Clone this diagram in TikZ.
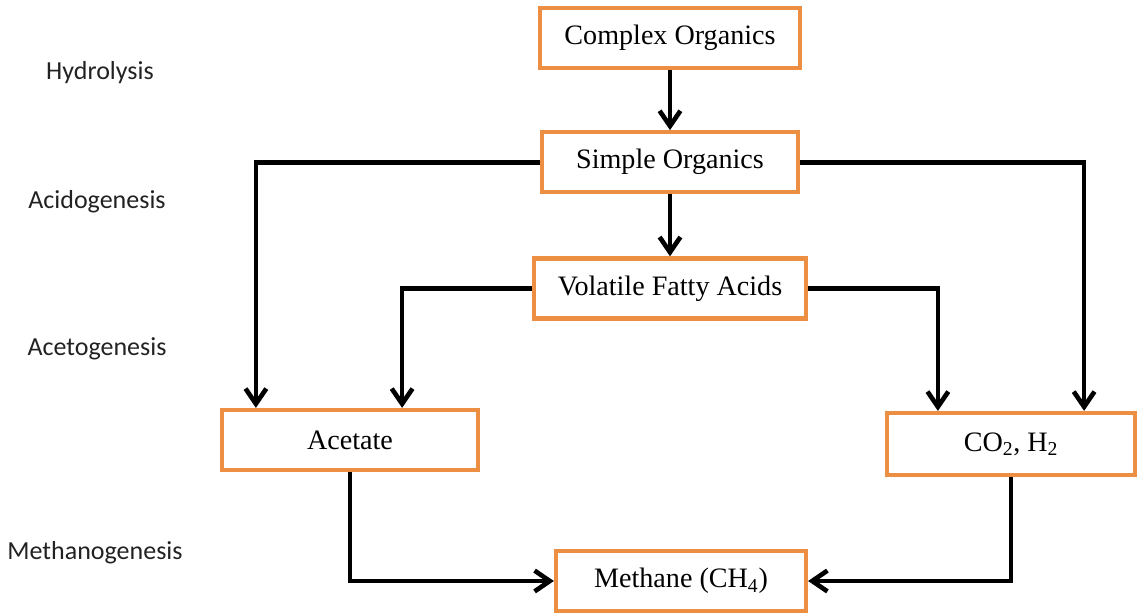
\documentclass[tikz,border=0pt]{standalone}
\usepackage{fontspec}
\setmainfont{Liberation Serif}
\newfontfamily\stagefont{Carlito}
\usepackage{xcolor}
\usepackage{tikz}
\usetikzlibrary{positioning,arrows.meta}
\definecolor{boxorange}{RGB}{236,143,66}
\definecolor{stagegray}{RGB}{34,34,34}

\begin{document}
\begin{tikzpicture}[stage/.style={font=\stagefont\fontsize{18.5}{21}\selectfont, text=stagegray}, substance/.style={draw=boxorange, line width=3pt, fill=white, minimum height=1.5cm, font=\fontsize{20}{24}\selectfont}, flow/.style={-{Straight Barb[length=3.8mm, width=5.2mm]}, line width=3.3pt}]
\useasboundingbox (0,0) rectangle (28.425,-15.35);
\node[stage] (hyd) at (2.5,-1.825) {Hydrolysis};
\node[stage] (acid) at (2.425,-5.05) {Acidogenesis};
\node[stage] (aceto) at (2.425,-8.725) {Acetogenesis};
\node[stage] (meth) at (2.375,-13.825) {Methanogenesis};
\node[substance, minimum width=6.5cm] (complex) at (16.75,-0.95) {Complex Organics};
\node[substance, minimum width=6.4cm, below=1.5cm of complex] (simple) {Simple Organics};
\node[substance, minimum width=6.8cm, below=1.55cm of simple] (vfa) {Volatile Fatty Acids};
\node[substance, minimum width=6.4cm] (acetate) at (8.75,-11) {Acetate};
\node[substance, minimum width=6.2cm, minimum height=1.55cm] (gases) at (25.275,-11.1) {CO\textsubscript{2}, H\textsubscript{2}};
\node[substance, minimum width=6.25cm] (methane) at (17.025,-14.525) {Methane (CH\textsubscript{4})};
\draw[flow] (complex) -- (simple);
\draw[flow] (simple) -- (vfa);
\draw[flow] (simple.west) -| ([xshift=0.9cm]acetate.north west);
\draw[flow] (simple.east) -| ([xshift=-1.325cm]gases.north east);
\draw[flow] (vfa.west) -| ([xshift=-1.95cm]acetate.north east);
\draw[flow] (vfa.east) -| ([xshift=1.325cm]gases.north west);
\draw[flow] (acetate.south) |- (methane.west);
\draw[flow] (gases.south) |- (methane.east);
\end{tikzpicture}
\end{document}
